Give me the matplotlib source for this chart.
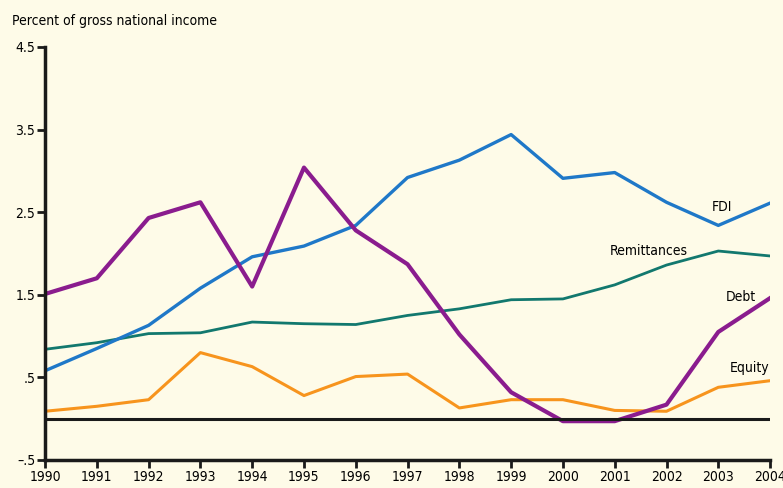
import matplotlib
matplotlib.use("Agg")
import matplotlib.pyplot as plt
from matplotlib import font_manager

years = list(range(1990, 2005))
fdi = [0.58, 0.85, 1.13, 1.58, 1.96, 2.09, 2.34, 2.92, 3.13, 3.44, 2.91, 2.98, 2.62, 2.34, 2.61]
debt = [1.51, 1.70, 2.43, 2.62, 1.60, 3.04, 2.28, 1.87, 1.02, 0.32, -0.03, -0.03, 0.17, 1.05, 1.46]
remittances = [0.84, 0.92, 1.03, 1.04, 1.17, 1.15, 1.14, 1.25, 1.33, 1.44, 1.45, 1.62, 1.86, 2.03, 1.97]
equity = [0.09, 0.15, 0.23, 0.80, 0.63, 0.28, 0.51, 0.54, 0.13, 0.23, 0.23, 0.10, 0.09, 0.38, 0.46]

ytick_vals = [-0.5, 0.5, 1.5, 2.5, 3.5, 4.5]
ytick_labels = ["\u2013.5", ".5", "1.5", "2.5", "3.5", "4.5"]

names = {f.name for f in font_manager.fontManager.ttflist}
if "Liberation Sans Narrow" in names:
    plt.rcParams['font.family'] = ['Liberation Sans Narrow', 'DejaVu Sans']
else:
    plt.rcParams['font.family'] = ['DejaVu Sans']
    plt.rcParams['font.stretch'] = 'condensed'
bg = "#fefbe8"

fig = plt.figure(figsize=(7.83, 4.88), dpi=100, facecolor=bg)
ax = fig.add_axes([0.0575, 0.0574, 0.926, 0.8463], facecolor=bg)

ax.plot(years, remittances, color="#12786e", lw=2.0)
ax.plot(years, equity, color="#f7941d", lw=2.2)
ax.plot(years, fdi, color="#1f78c8", lw=2.4)
ax.plot(years, debt, color="#8a1c8e", lw=3.0)
ax.axhline(0, color="#1a1a1a", lw=2.2)

ax.set_xlim(1990, 2004)
ax.set_ylim(-0.5, 4.5)
ax.set_xticks(years)
ax.set_xticklabels([str(y) for y in years], fontsize=10)
ax.set_yticks(ytick_vals)
ax.set_yticklabels(ytick_labels, fontsize=10)
ax.tick_params(direction="out", length=6, width=2, color="#1a1a1a", pad=1)

for s in ["top", "right"]:
    ax.spines[s].set_visible(False)
for s in ["left", "bottom"]:
    ax.spines[s].set_linewidth(2.5)
    ax.spines[s].set_color("#1a1a1a")

ax.text(2002.88, 2.52, "FDI", fontsize=10)
ax.text(2000.9, 1.98, "Remittances", fontsize=10)
ax.text(2003.15, 1.42, "Debt", fontsize=10)
ax.text(2003.23, 0.57, "Equity", fontsize=10)

fig.text(0.015, 0.948, "Percent of gross national income", fontsize=10)

fig.savefig("out.png", dpi=100, facecolor=bg)
